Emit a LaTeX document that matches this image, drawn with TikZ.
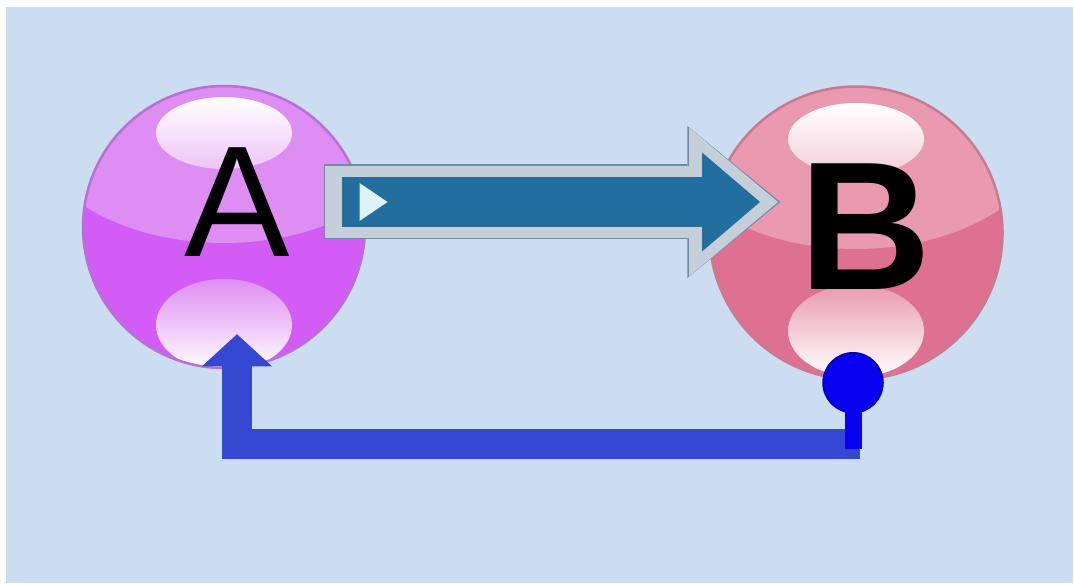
\documentclass[tikz,border=0pt]{standalone}
\usepackage{fontspec}
\setmainfont{Liberation Sans}
\usetikzlibrary{arrows.meta,calc}

\definecolor{backdrop}{RGB}{204,221,241}
\definecolor{violetlow}{RGB}{210,92,245}
\definecolor{violethigh}{RGB}{222,142,242}
\definecolor{violetgloss}{RGB}{238,196,247}
\definecolor{violetrim}{RGB}{185,112,212}
\definecolor{roselow}{RGB}{222,112,146}
\definecolor{rosehigh}{RGB}{233,154,176}
\definecolor{rosegloss}{RGB}{244,206,218}
\definecolor{roserim}{RGB}{200,122,146}
\definecolor{flowrim}{RGB}{110,140,166}
\definecolor{flowbody}{RGB}{196,207,218}
\definecolor{flowcore}{RGB}{34,110,158}
\definecolor{cue}{RGB}{222,244,244}
\definecolor{feedback}{RGB}{52,72,210}
\definecolor{knobblue}{RGB}{10,0,240}

\begin{document}
\begin{tikzpicture}[x=0.1mm,y=-0.1mm,
    sphere/.style={circle,inner sep=0pt,fill=#1low,draw=#1rim,line width=0.25mm,
      path picture={
        \fill[#1high] ($(path picture bounding box.center)+(0,-114)$) ellipse [x radius=200,y radius=130];
        \shade[top color=white,bottom color=#1gloss] ($(path picture bounding box.center)+(0,-94)$) ellipse [x radius=68,y radius=36];
        \shade[top color=#1high,bottom color=white] ($(path picture bounding box.center)+(0,98)$) ellipse [x radius=68,y radius=46];
      }},
    letter/.style={inner sep=0pt,text=black},
    flow/.style={line width=#1},
    feedbackedge/.style={draw=feedback,line width=3mm,
      -{Triangle[width=7mm,length=3.2mm,line width=0pt]}},
    knob/.style={circle,fill=knobblue,draw=knobblue!70!black,line width=0.15mm,minimum size=6mm,inner sep=0pt},
    stem/.style={draw=knobblue,line width=1.7mm}
]
\useasboundingbox (0,0) rectangle (1074,583);
\fill[white] (0,0) rectangle (1074,583);
\fill[backdrop] (6,7) rectangle (1073,583);

\node[sphere=violet,minimum size=28.2mm] (A) at (224,227) {};
\node[sphere=rose,minimum size=29.3mm]   (B) at (856,233) {};
\node[letter,font=\fontsize{45}{45}\selectfont] (Alabel) at ($(A)+(13,-25)$) {A};
\node[letter,font=\fontsize{52}{52}\selectfont\bfseries] (Blabel) at ($(B)+(9,-6)$) {B};

\coordinate (flowin)  at ($(A)+(99.5,-25)$);
\coordinate (flowout) at ($(B)+(-75.7,-31)$);
\draw[flowrim,flow=7.5mm,-{Triangle[width=15.2mm,length=9.3mm,line width=0pt]}] (flowin) -- (flowout);
\draw[flowbody,flow=7.2mm,shorten <=0.15mm,shorten >=0.23mm,
  -{Triangle[width=14.9mm,length=8.9mm,line width=0pt]}] (flowin) -- (flowout);
\draw[flowcore,flow=5mm,shorten <=1.85mm,shorten >=2.03mm,
  -{Triangle[width=9.9mm,length=5.8mm,line width=0pt]}] (flowin) -- (flowout);
\fill[cue] ($(flowin)+(36,-19)$) -- ++(28,19) -- ++(-28,19) -- cycle;

\draw[feedbackedge] ($(B.south)+(4,63)$) -| ($(A.south)+(13,-35)$);
\node[knob] (tap) at ($(B.south)+(-3,2)$) {};
\draw[stem] (tap.center) -- ++(0,66);
\end{tikzpicture}
\end{document}
